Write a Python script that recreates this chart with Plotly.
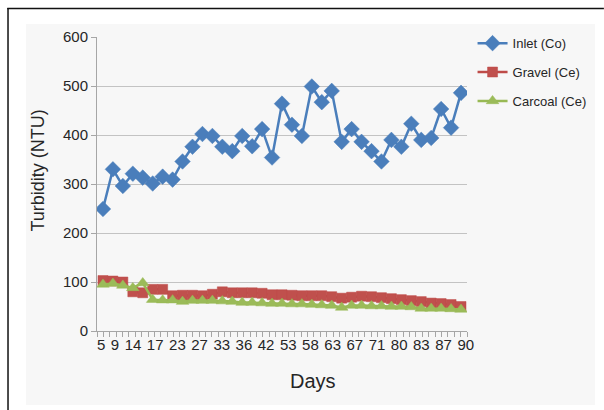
import numpy as np
import plotly.graph_objects as go

# Turbidity readings per sampling run (NTU)
inlet = [249, 330, 296, 321, 313, 301, 315, 309, 346, 376, 402, 398, 376, 367,
         398, 377, 412, 354, 464, 421, 398, 499, 467, 490, 386, 412, 386, 367,
         346, 390, 376, 423, 390, 394, 453, 415, 486]
gravel = [103, 102, 100, 80, 78, 85, 85, 72, 73, 73, 72, 75, 80, 78, 78, 78, 77,
          74, 74, 73, 72, 72, 72, 70, 67, 69, 71, 70, 68, 66, 64, 62, 60, 57,
          56, 54, 50]
carcoal = [95, 97, 93, 88, 98, 64, 63, 63, 60, 62, 62, 62, 61, 60, 58, 58, 57,
           56, 56, 55, 55, 54, 53, 52, 48, 52, 52, 51, 51, 50, 50, 49, 46, 46,
           46, 45, 44]

# Day labels shown along the horizontal axis
day_labels = ["5", "9", "14", "17", "23", "27", "33", "36", "42", "53", "58",
              "63", "67", "71", "80", "83", "87", "90"]

runs = list(range(len(inlet)))
FONT = "Liberation Sans, Arial, sans-serif"
TEXT = "#262626"
GRID = "#c3c3c3"
AXIS = "#a6a6a6"

fig = go.Figure()
fig.add_trace(go.Scatter(
    x=runs, y=inlet, name="Inlet (Co)", mode="lines+markers", legendgroup="a",
    line=dict(color="#4a7ebb", width=2.5),
    marker=dict(symbol="diamond", size=12, color="#4a7ebb",
                line=dict(color="#4a7ebb", width=0.5)),
))
fig.add_trace(go.Scatter(
    x=runs, y=gravel, name="Gravel (Ce)", mode="lines+markers", legendgroup="b",
    line=dict(color="#be4b48", width=2.5),
    marker=dict(symbol="square", size=10, color="#c0504d",
                line=dict(color="#be4b48", width=0.5)),
))
fig.add_trace(go.Scatter(
    x=runs, y=carcoal, name="Carcoal (Ce)", mode="lines+markers", legendgroup="c",
    line=dict(color="#98b954", width=2.5),
    marker=dict(symbol="triangle-up", size=11, color="#9bbb59",
                line=dict(color="#98b954", width=0.5)),
))

# Horizontal axis spans the runs with half a slot of padding each side
lo, hi = -0.6, len(inlet) - 0.4
plot_px = 370.0
units_per_px = (hi - lo) / plot_px

# Day labels are set close together like a line of text: each label takes the
# width of its digits plus a fixed gap (15 px font, digit ~8.34 px wide)
digit_px, gap_px = 8.34, 5.5
widths = np.array([len(s) * digit_px for s in day_labels])
starts = np.concatenate([[0.0], np.cumsum(widths[:-1] + gap_px)])
label_px = starts + widths / 2
label_pos = lo + label_px * units_per_px

minor_pos = np.linspace(lo, hi, 59)

fig.update_xaxes(
    range=[lo, hi], showgrid=False, zeroline=False,
    showline=True, linecolor=AXIS, linewidth=1,
    tickmode="array", tickvals=label_pos, ticktext=day_labels, ticks="",
    tickfont=dict(family=FONT, size=15, color=TEXT),
    minor=dict(tickmode="array", tickvals=minor_pos, ticks="outside",
               ticklen=5, tickcolor=AXIS, showgrid=False),
)
fig.update_yaxes(
    range=[0, 600], dtick=100, showgrid=True, gridcolor=GRID, gridwidth=1,
    zeroline=False, showline=True, linecolor=AXIS, linewidth=1,
    ticks="outside", ticklen=5, tickcolor=AXIS,
    tickfont=dict(family=FONT, size=15, color=TEXT),
)

# Framing: light panel behind the chart and a dark rule on the left and top
fig.add_shape(type="rect", xref="paper", yref="paper", layer="below",
              x0=-0.192, x1=1.346, y0=-0.252, y1=1.044,
              fillcolor="#f7f7f7", line=dict(width=0))
fig.add_shape(type="line", xref="paper", yref="paper",
              x0=-0.2405, x1=-0.2405, y0=1.099, y1=-0.27,
              line=dict(color="#111111", width=1.5))
fig.add_shape(type="line", xref="paper", yref="paper",
              x0=-0.2425, x1=1.37, y0=1.097, y1=1.097,
              line=dict(color="#111111", width=1.5))

fig.add_annotation(text="Days", xref="paper", yref="paper", x=0.584, y=-0.170,
                   xanchor="center", yanchor="middle", showarrow=False,
                   font=dict(family=FONT, size=20, color=TEXT))
fig.add_annotation(text="Turbidity (NTU)", xref="paper", yref="paper",
                   x=-0.158, y=0.544, textangle=-90, showarrow=False,
                   xanchor="center", yanchor="middle",
                   font=dict(family=FONT, size=18, color=TEXT))

fig.update_layout(
    width=604, height=410,
    margin=dict(l=97, r=137, t=37, b=79),
    paper_bgcolor="white", plot_bgcolor="#f7f7f7",
    showlegend=True,
    legend=dict(x=1.015, y=1.03, xanchor="left", yanchor="top",
                bgcolor="rgba(0,0,0,0)", itemwidth=30, tracegroupgap=9,
                font=dict(family=FONT, size=13, color=TEXT)),
)

fig.write_html("out.html")
